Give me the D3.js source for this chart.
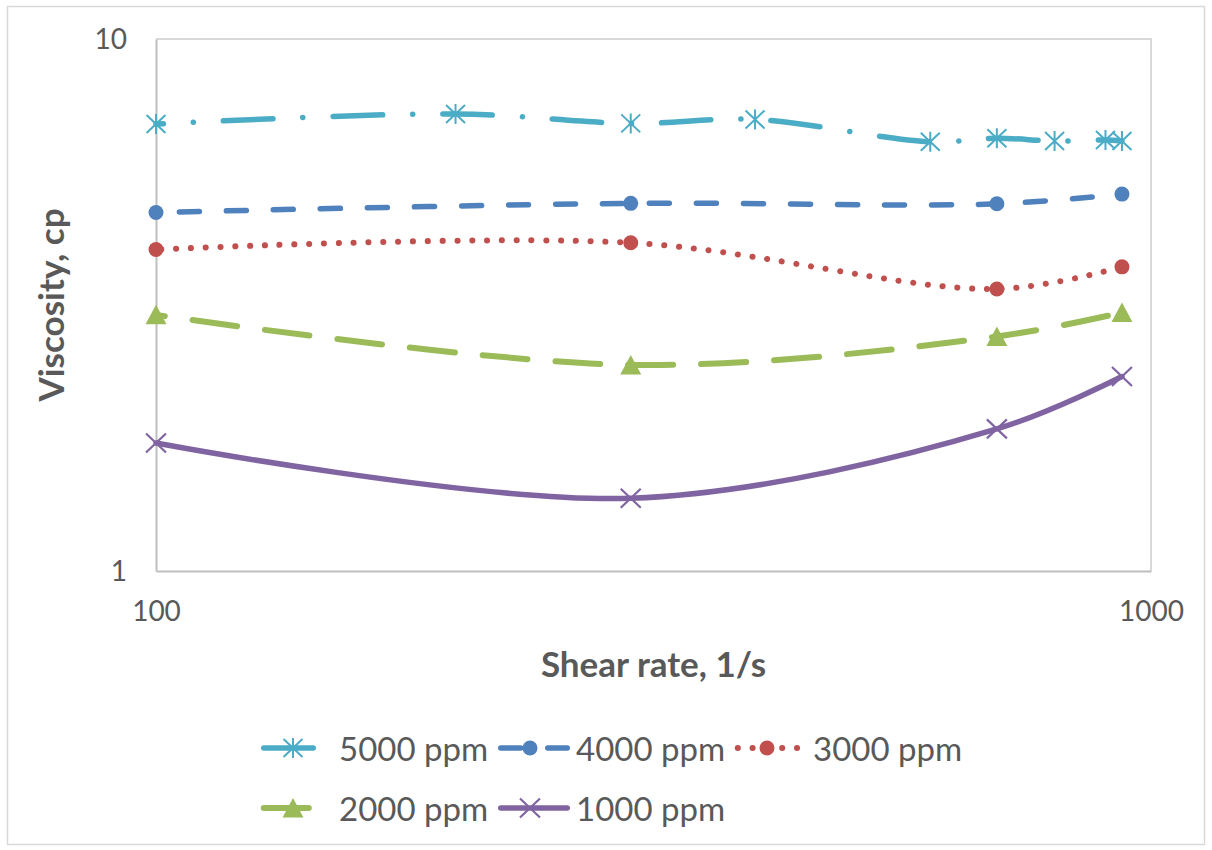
<!DOCTYPE html>
<html>
<head>
<meta charset="utf-8">
<script src="https://cdn.jsdelivr.net/npm/d3@7"></script>
<style>
  html, body { margin: 0; padding: 0; background: #ffffff; }
  svg { display: block; }
  text { font-family: Lato, "Open Sans", "Liberation Sans", sans-serif; fill: #595959; }
</style>
</head>
<body>
<svg id="chart" width="1212" height="850"></svg>
<script>
// Shear rates (1/s) at which viscosity was measured
const shearRate5000 = [100, 200, 300, 400, 600, 700, 800, 900, 935];
const shearRate = [100, 300, 700, 935];

// Viscosity (cp) for each polymer concentration
const visc5000 = [6.92, 7.23, 6.94, 7.06, 6.41, 6.51, 6.43, 6.46, 6.43];
const visc4000 = [4.72, 4.91, 4.90, 5.11];
const visc3000 = [4.02, 4.14, 3.39, 3.73];
const visc2000 = [3.03, 2.44, 2.76, 3.06];
const visc1000 = [1.74, 1.37, 1.85, 2.32];

const seriesNames = ["5000 ppm", "4000 ppm", "3000 ppm", "2000 ppm", "1000 ppm"];
const xTickValues = [100, 1000];
const yTickValues = [1, 10];
const xTitle = "Shear rate, 1/s";
const yTitle = "Viscosity, cp";

const series = [
  { name: seriesNames[0], x: shearRate5000, y: visc5000, color: "#4BACC6", width: 5.5,
    dash: "49.5 30 0.1 30", offset: 42, marker: "asterisk" },
  { name: seriesNames[1], x: shearRate, y: visc4000, color: "#4F81BD", width: 5.5,
    dash: "20 27", offset: 23.5, marker: "circle" },
  { name: seriesNames[2], x: shearRate, y: visc3000, color: "#C0504D", width: 6,
    dash: "0.1 14.7", offset: 9.4, marker: "circle" },
  { name: seriesNames[3], x: shearRate, y: visc2000, color: "#9BBB59", width: 6,
    dash: "45 28", offset: 36, marker: "triangle" },
  { name: seriesNames[4], x: shearRate, y: visc1000, color: "#8064A2", width: 5.5,
    dash: null, offset: 0, marker: "cross" }
];

const svg = d3.select("#chart");

// outer chart frame
svg.append("rect")
  .attr("x", 7.5).attr("y", 6.5).attr("width", 1197).attr("height", 838)
  .attr("fill", "#ffffff").attr("stroke", "#d9d9d9").attr("stroke-width", 1.5);

const plot = { left: 156, right: 1151, top: 39, bottom: 571 };

const x = d3.scaleLog().domain([100, 1000]).range([plot.left, plot.right]);
const y = d3.scaleLog().domain([1, 10]).range([plot.bottom, plot.top]);

// plot area border (top / right lighter than the axes)
svg.append("path")
  .attr("d", `M${plot.left},${plot.top}H${plot.right}V${plot.bottom}`)
  .attr("fill", "none").attr("stroke", "#d9d9d9").attr("stroke-width", 2);

// axes
const xAxis = d3.axisBottom(x).tickValues(xTickValues).tickSize(0).tickPadding(28)
  .tickFormat(d3.format("d"));
const yAxis = d3.axisLeft(y).tickValues(yTickValues).tickSize(0).tickPadding(29)
  .tickFormat(d3.format("d"));

const gx = svg.append("g").attr("transform", `translate(0,${plot.bottom})`).call(xAxis);
const gy = svg.append("g").attr("transform", `translate(${plot.left},0)`).call(yAxis);

[gx, gy].forEach(g => {
  g.select(".domain").attr("stroke", "#bfbfbf").attr("stroke-width", 2);
  g.selectAll(".tick text")
    .attr("fill", "#595959")
    .style("font-family", "Lato, 'Open Sans', sans-serif")
    .style("font-size", "28px");
});
gx.selectAll(".tick text").attr("dy", "0.71em").attr("y", 30);
gy.selectAll(".tick text").attr("dy", "0.35em");

// axis titles
svg.append("text")
  .attr("x", (plot.left + plot.right) / 2).attr("y", 663)
  .attr("text-anchor", "middle").attr("dominant-baseline", "central")
  .style("font-size", "35px").style("font-weight", "bold")
  .text(xTitle);

svg.append("text")
  .attr("transform", `translate(50,${(plot.top + plot.bottom) / 2}) rotate(-90)`)
  .attr("text-anchor", "middle").attr("dominant-baseline", "central")
  .style("font-size", "35px").style("font-weight", "bold")
  .text(yTitle);

// marker shapes
function drawMarker(g, type, cx, cy, color) {
  const m = g.append("g").attr("transform", `translate(${cx},${cy})`);
  if (type === "circle") {
    m.append("circle").attr("r", 7.5).attr("fill", color);
  } else if (type === "triangle") {
    m.append("path").attr("d", "M0,-10L10.5,9.5L-10.5,9.5Z").attr("fill", color);
  } else if (type === "asterisk") {
    m.append("path").attr("d", "M-9.5,-9L9.5,9M-9.5,9L9.5,-9M0,-10L0,10")
      .attr("stroke", color).attr("stroke-width", 2).attr("fill", "none");
  } else if (type === "cross") {
    m.append("path").attr("d", "M-10,-9.5L10,9.5M-10,9.5L10,-9.5")
      .attr("stroke", color).attr("stroke-width", 2.2).attr("fill", "none");
  }
}

const line = d3.line()
  .x(d => x(d[0]))
  .y(d => y(d[1]))
  .curve(d3.curveCatmullRom.alpha(0.5));

series.forEach(s => {
  const pts = s.x.map((v, i) => [v, s.y[i]]);
  const g = svg.append("g");
  const p = g.append("path")
    .attr("d", line(pts))
    .attr("fill", "none")
    .attr("stroke", s.color)
    .attr("stroke-width", s.width)
    .attr("stroke-linecap", "round")
    .attr("stroke-linejoin", "round");
  if (s.dash) p.attr("stroke-dasharray", s.dash).attr("stroke-dashoffset", s.offset);
  pts.forEach(d => drawMarker(g, s.marker, x(d[0]), y(d[1]), s.color));
});

// legend
const legendPos = [[261, 748], [498, 748], [735, 748], [261, 808], [498, 808]];
series.forEach((s, i) => {
  const [lx, ly] = legendPos[i];
  const g = svg.append("g");
  const l = g.append("line")
    .attr("x1", lx + 2.75).attr("x2", lx + 69.25)
    .attr("y1", ly).attr("y2", ly)
    .attr("stroke", s.color).attr("stroke-width", s.width)
    .attr("stroke-linecap", "round");
  if (s.dash) l.attr("stroke-dasharray", s.dash);
  drawMarker(g, s.marker, lx + 32, ly, s.color);
  g.append("text")
    .attr("x", lx + 78).attr("y", ly)
    .attr("dominant-baseline", "central")
    .style("font-size", "33px")
    .text(s.name);
});
</script>
</body>
</html>
